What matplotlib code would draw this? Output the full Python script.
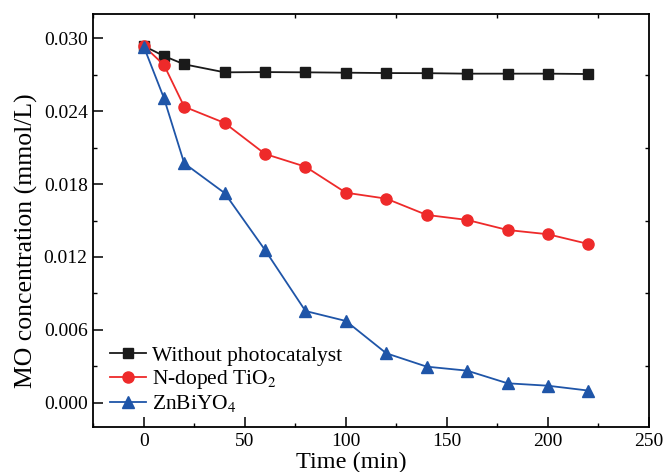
import numpy as np
import matplotlib.pyplot as plt
from matplotlib.ticker import MultipleLocator

plt.rcParams['font.family'] = ['Liberation Serif', 'DejaVu Serif']
plt.rcParams['mathtext.fontset'] = 'stix'

time_min = [0, 10, 20, 40, 60, 80, 100, 120, 140, 160, 180, 200, 220]
no_catalyst = [0.02937, 0.02854, 0.02786, 0.0272, 0.02722, 0.0272, 0.02717,
               0.02714, 0.02713, 0.02709, 0.02709, 0.02709, 0.02706]
n_tio2 = [0.02937, 0.0278, 0.02437, 0.02303, 0.02048, 0.01943, 0.01729,
          0.0168, 0.01546, 0.01505, 0.01422, 0.01387, 0.01307]
znbiyo4 = [0.02931, 0.02506, 0.01971, 0.01726, 0.01257, 0.00755, 0.00673,
           0.00407, 0.00297, 0.00264, 0.0016, 0.0014, 0.0010]

fig = plt.figure(figsize=(6.65, 4.72), dpi=100)
ax = fig.add_axes([0.1403, 0.0953, 0.8356, 0.875])

ax.plot(time_min, no_catalyst, color='#1a1a1a', marker='s', ms=7, lw=1.3,
        label='Without photocatalyst')
ax.plot(time_min, n_tio2, color='#ee2a2a', marker='o', ms=8, lw=1.3,
        label='N-doped TiO$_2$')
ax.plot(time_min, znbiyo4, color='#1f55a8', marker='^', ms=8.5, lw=1.3,
        label='ZnBiYO$_4$')

ax.set_xlim(-25, 250)
ax.set_ylim(-0.002, 0.032)
ax.xaxis.set_major_locator(MultipleLocator(50))
ax.xaxis.set_minor_locator(MultipleLocator(25))
ax.yaxis.set_major_locator(MultipleLocator(0.006))
ax.yaxis.set_minor_locator(MultipleLocator(0.003))
ax.yaxis.set_major_formatter(plt.FormatStrFormatter('%.3f'))

ax.tick_params(which='major', direction='in', length=7, width=1.1,
               labelsize=14, top=False, right=False, pad=4)
ax.tick_params(which='minor', direction='in', length=3, width=1,
               top=True, right=True)
for s in ax.spines.values():
    s.set_linewidth(1.3)

ax.set_xlabel('Time (min)', fontsize=17.5, labelpad=5)
ax.set_ylabel('MO concentration (mmol/L)', fontsize=18.5)
# labels sit a bit off-centre in the original
ax.xaxis.set_label_coords(0.464, -0.06)
ax.yaxis.set_label_coords(-0.099, 0.45)

ax.legend(loc='lower left', frameon=False, fontsize=15.5, handlelength=1.7,
          handletextpad=0.25, labelspacing=0.1, borderaxespad=0.1,
          bbox_to_anchor=(0.01, 0.005))

fig.savefig('out.png', dpi=100)
